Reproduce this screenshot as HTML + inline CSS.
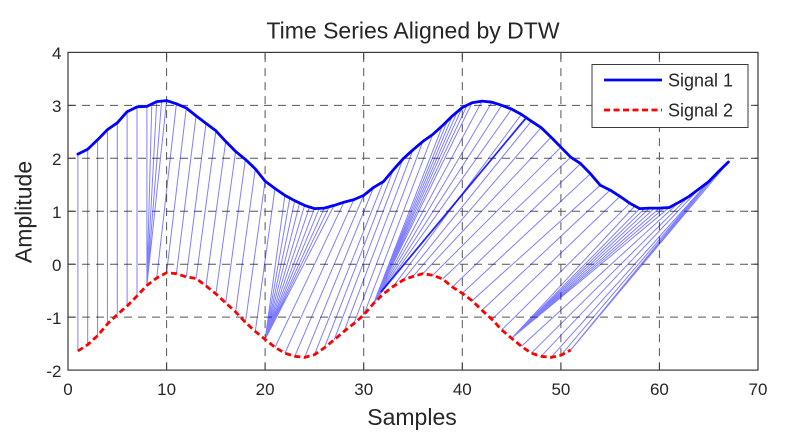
<!DOCTYPE html>
<html>
<head>
<meta charset="utf-8">
<style>
html,body{margin:0;padding:0;background:#fff;}
svg{display:block;}
text{font-family:"Liberation Sans",Arial,sans-serif;fill:#262626;}
</style>
</head>
<body>
<svg width="790" height="446" viewBox="0 0 790 446" xmlns="http://www.w3.org/2000/svg">
<rect x="0" y="0" width="790" height="446" fill="#fff"/>
<g stroke="#555" stroke-width="1" stroke-dasharray="8 6" fill="none">
<line x1="166.6" y1="370.1" x2="166.6" y2="52.4"/>
<line x1="265.1" y1="370.1" x2="265.1" y2="52.4"/>
<line x1="363.7" y1="370.1" x2="363.7" y2="52.4"/>
<line x1="462.3" y1="370.1" x2="462.3" y2="52.4"/>
<line x1="560.9" y1="370.1" x2="560.9" y2="52.4"/>
<line x1="659.4" y1="370.1" x2="659.4" y2="52.4"/>
<line x1="68" y1="105.35" x2="758" y2="105.35"/>
<line x1="68" y1="158.3" x2="758" y2="158.3"/>
<line x1="68" y1="211.25" x2="758" y2="211.25"/>
<line x1="68" y1="264.2" x2="758" y2="264.2"/>
<line x1="68" y1="317.15" x2="758" y2="317.15"/>
</g>
<path fill="none" stroke="#0000ff" stroke-opacity="0.5" stroke-width="1" d="M77.9 154.1L77.9 351 M87.7 149.3L87.7 344.7 M97.6 139.8L97.6 335.7 M107.4 129.7L107.4 324 M117.3 122.8L117.3 314.5 M127.1 111.7L127.1 306 M137 106.9L137 296 M146.9 106.4L146.9 285.4 M151.8 104L146.9 285.4 M156.7 101.6L146.9 285.4 M161.6 101L146.9 285.4 M166.6 100.6L146.9 285.4 M176.4 103.8L156.7 278 M186.3 108L166.6 272.7 M196.1 115.9L176.4 273.7 M206 123.4L186.3 276.9 M215.9 130.8L196.1 278.5 M225.7 141.4L206 285.9 M235.6 151.4L215.9 293.9 M245.4 159.4L225.7 302.9 M255.3 168.9L235.6 311.9 M265.1 181.1L245.4 322.4 M275 188.5L255.3 331.4 M284.9 195.4L265.1 339.4 M289.8 198L265.1 339.4 M294.7 200.7L265.1 339.4 M299.6 203L265.1 339.4 M304.6 205.4L265.1 339.4 M309.5 207L265.1 339.4 M314.4 208.6L265.1 339.4 M319.3 208.4L265.1 339.4 M324.3 208.1L265.1 339.4 M329.2 206.8L265.1 339.4 M334.1 205.4L265.1 339.4 M344 202.2L275 347.3 M353.9 199.6L284.9 353.2 M363.7 195.4L294.7 356.3 M373.6 187.4L304.6 357.4 M383.4 181.6L314.4 354.7 M393.3 169.9L324.3 347.9 M403.1 158.8L334.1 339.9 M413 149.8L344 331.4 M422.9 141.4L353.9 323.5 M432.7 134.5L363.7 315 M442.6 125.5L373.6 303.4 M447.5 120.7L373.6 303.4 M452.4 115.9L373.6 303.4 M457.3 111.7L373.6 303.4 M462.3 107.5L373.6 303.4 M467.2 105.1L373.6 303.4 M472.1 102.7L373.6 303.4 M482 101.1L373.6 303.4 M491.9 102.2L373.6 303.4 M501.7 105.3L373.6 303.4 M511.6 109.1L373.6 303.4 M521.4 114.4L393.3 286.4 M531.3 121.2L403.1 280.1 M541.1 127.6L413 276.4 M551 137.1L422.9 273.7 M560.9 147.2L432.7 275.3 M570.7 157.2L442.6 279 M580.6 163.6L452.4 287 M590.4 173.7L462.3 293.3 M600.3 185.3L472.1 300.7 M610.1 190.1L482 310.3 M620 196.4L491.9 319.3 M629.9 203.3L501.7 329.9 M634.8 206L511.6 338.3 M639.7 208.6L511.6 338.3 M644.6 208.4L511.6 338.3 M649.6 208.1L511.6 338.3 M654.5 208.1L511.6 338.3 M659.4 208.1L511.6 338.3 M664.3 207.8L511.6 338.3 M669.3 207.5L511.6 338.3 M679.1 202.2L521.4 346.3 M689 196.4L531.3 353.2 M698.9 189L541.1 356.3 M708.7 181.6L551 357.4 M708.7 181.6L560.9 355.3 M708.7 181.6L570.7 350 M718.6 171.5L570.7 350 M728.4 162L570.7 350"/>
<path fill="none" stroke="#0000ff" stroke-opacity="0.85" stroke-width="1.8" d="M526 118L381 292"/>
<polyline fill="none" stroke="#0000ff" stroke-width="2.8" stroke-linejoin="round" stroke-linecap="round" points="77.9,154.1 87.7,149.3 97.6,139.8 107.4,129.7 117.3,122.8 127.1,111.7 137,106.9 146.9,106.4 156.7,101.6 166.6,100.6 176.4,103.8 186.3,108 196.1,115.9 206,123.4 215.9,130.8 225.7,141.4 235.6,151.4 245.4,159.4 255.3,168.9 265.1,181.1 275,188.5 284.9,195.4 294.7,200.7 304.6,205.4 314.4,208.6 324.3,208.1 334.1,205.4 344,202.2 353.9,199.6 363.7,195.4 373.6,187.4 383.4,181.6 393.3,169.9 403.1,158.8 413,149.8 422.9,141.4 432.7,134.5 442.6,125.5 452.4,115.9 462.3,107.5 472.1,102.7 482,101.1 491.9,102.2 501.7,105.3 511.6,109.1 521.4,114.4 531.3,121.2 541.1,127.6 551,137.1 560.9,147.2 570.7,157.2 580.6,163.6 590.4,173.7 600.3,185.3 610.1,190.1 620,196.4 629.9,203.3 639.7,208.6 649.6,208.1 659.4,208.1 669.3,207.5 679.1,202.2 689,196.4 698.9,189 708.7,181.6 718.6,171.5 728.4,162"/>
<polyline fill="none" stroke="#ff0000" stroke-width="2.8" stroke-dasharray="6 3.5" stroke-linejoin="round" points="77.9,351 87.7,344.7 97.6,335.7 107.4,324 117.3,314.5 127.1,306 137,296 146.9,285.4 156.7,278 166.6,272.7 176.4,273.7 186.3,276.9 196.1,278.5 206,285.9 215.9,293.9 225.7,302.9 235.6,311.9 245.4,322.4 255.3,331.4 265.1,339.4 275,347.3 284.9,353.2 294.7,356.3 304.6,357.4 314.4,354.7 324.3,347.9 334.1,339.9 344,331.4 353.9,323.5 363.7,315 373.6,303.4 383.4,293.9 393.3,286.4 403.1,280.1 413,276.4 422.9,273.7 432.7,275.3 442.6,279 452.4,287 462.3,293.3 472.1,300.7 482,310.3 491.9,319.3 501.7,329.9 511.6,338.3 521.4,346.3 531.3,353.2 541.1,356.3 551,357.4 560.9,355.3 570.7,350"/>
<rect x="68" y="52.4" width="690" height="317.7" fill="none" stroke="#3a3a3a" stroke-width="1.2"/>
<g stroke="#3a3a3a" stroke-width="1">
<line x1="166.6" y1="370.1" x2="166.6" y2="363.1"/><line x1="166.6" y1="52.4" x2="166.6" y2="59.4"/>
<line x1="265.1" y1="370.1" x2="265.1" y2="363.1"/><line x1="265.1" y1="52.4" x2="265.1" y2="59.4"/>
<line x1="363.7" y1="370.1" x2="363.7" y2="363.1"/><line x1="363.7" y1="52.4" x2="363.7" y2="59.4"/>
<line x1="462.3" y1="370.1" x2="462.3" y2="363.1"/><line x1="462.3" y1="52.4" x2="462.3" y2="59.4"/>
<line x1="560.9" y1="370.1" x2="560.9" y2="363.1"/><line x1="560.9" y1="52.4" x2="560.9" y2="59.4"/>
<line x1="659.4" y1="370.1" x2="659.4" y2="363.1"/><line x1="659.4" y1="52.4" x2="659.4" y2="59.4"/>
<line x1="68" y1="105.35" x2="75" y2="105.35"/><line x1="758" y1="105.35" x2="751" y2="105.35"/>
<line x1="68" y1="158.3" x2="75" y2="158.3"/><line x1="758" y1="158.3" x2="751" y2="158.3"/>
<line x1="68" y1="211.25" x2="75" y2="211.25"/><line x1="758" y1="211.25" x2="751" y2="211.25"/>
<line x1="68" y1="264.2" x2="75" y2="264.2"/><line x1="758" y1="264.2" x2="751" y2="264.2"/>
<line x1="68" y1="317.15" x2="75" y2="317.15"/><line x1="758" y1="317.15" x2="751" y2="317.15"/>
</g>
<g font-size="17" text-anchor="middle">
<text x="68" y="395">0</text>
<text x="166.6" y="395">10</text>
<text x="265.1" y="395">20</text>
<text x="363.7" y="395">30</text>
<text x="462.3" y="395">40</text>
<text x="560.9" y="395">50</text>
<text x="659.4" y="395">60</text>
<text x="758" y="395">70</text>
</g>
<g font-size="17" text-anchor="end">
<text x="61.5" y="59">4</text>
<text x="61.5" y="112">3</text>
<text x="61.5" y="165">2</text>
<text x="61.5" y="218">1</text>
<text x="61.5" y="271">0</text>
<text x="61.5" y="324">-1</text>
<text x="61.5" y="377">-2</text>
</g>
<text x="413" y="38.5" font-size="23" text-anchor="middle">Time Series Aligned by DTW</text>
<text x="412" y="425" font-size="23" text-anchor="middle">Samples</text>
<text transform="translate(31.5,212) rotate(-90)" font-size="23" text-anchor="middle">Amplitude</text>
<rect x="592" y="64.5" width="156" height="63" fill="#fff" stroke="#3a3a3a" stroke-width="1"/>
<line x1="604" y1="80" x2="662" y2="80" stroke="#0000ff" stroke-width="2.8"/>
<line x1="604" y1="110" x2="662" y2="110" stroke="#ff0000" stroke-width="2.8" stroke-dasharray="6 3.5"/>
<text x="668" y="86.5" font-size="18">Signal 1</text>
<text x="668" y="116.5" font-size="18">Signal 2</text>
</svg>
</body>
</html>
